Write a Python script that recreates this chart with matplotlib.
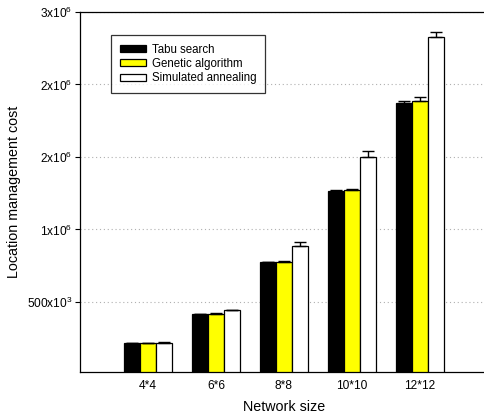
import matplotlib
matplotlib.use("Agg")
import matplotlib.pyplot as plt
import numpy as np

plt.rcParams['font.family'] = ['Liberation Sans', 'DejaVu Sans']
plt.rcParams['mathtext.fontset'] = 'custom'
plt.rcParams['mathtext.rm'] = 'Liberation Sans'

categories = ["4*4", "6*6", "8*8", "10*10", "12*12"]
series_names = ["Tabu search", "Genetic algorithm", "Simulated annealing"]
tabu = [217e3, 417e3, 774e3, 1267e3, 1874e3]
genetic = [217e3, 420e3, 775e3, 1271e3, 1884e3]
annealing = [220e3, 441e3, 885e3, 1501e3, 2326e3]
tabu_err = [2e3, 3e3, 3e3, 3e3, 12e3]
genetic_err = [2e3, 3e3, 4e3, 9e3, 27e3]
annealing_err = [2e3, 6e3, 26e3, 41e3, 39e3]
ytick_values = [500e3, 1000e3, 1500e3, 2000e3, 2500e3]
ytick_labels = [r"500x10$^\mathregular{3}$", r"1x10$^\mathregular{6}$", r"2x10$^\mathregular{6}$",
                r"2x10$^\mathregular{6}$", r"3x10$^\mathregular{6}$"]

W, H = 485, 416
fig = plt.figure(figsize=(W / 100, H / 100), dpi=100)
ax = fig.add_axes([80 / W, 1 - 371.5 / H, 408 / W, (371.5 - 12) / H])

x = np.arange(1, len(categories) + 1)
bw = 0.235
colors = ["black", "#ffff00", "white"]
data = [tabu, genetic, annealing]
errs = [tabu_err, genetic_err, annealing_err]
for i, (vals, err, c, name) in enumerate(zip(data, errs, colors, series_names)):
    pos = x + (i - 1) * bw
    ax.bar(pos, vals, width=bw, color=c, edgecolor="black", linewidth=0.9,
           label=name, zorder=2)
    ax.errorbar(pos, vals, yerr=[np.zeros(len(err)), err], fmt="none",
                ecolor="black", elinewidth=1.0, capsize=4.5, capthick=1.0, zorder=3)

ax.set_xlim(0, 6)
ax.set_ylim(20e3, 2500e3)
ax.set_xticks(x)
ax.set_xticklabels(categories, fontsize=8.6)
ax.set_yticks(ytick_values)
ax.set_yticklabels(ytick_labels, fontsize=8.6)
ax.tick_params(axis="x", length=0, pad=6)
ax.tick_params(axis="y", length=3.5, width=0.8, direction="out", pad=2)
ax.yaxis.grid(True, linestyle=(0, (1, 2.5)), color="#b0b0b0", linewidth=0.8, zorder=0)
ax.set_axisbelow(True)
for s in ["left", "bottom", "top"]:
    ax.spines[s].set_linewidth(0.9)
ax.spines["right"].set_visible(False)

ax.set_xlabel("Network size", fontsize=10.3, labelpad=6)
ax.set_ylabel("Location management cost", fontsize=10.3, labelpad=4)

leg = ax.legend(loc="upper left", bbox_to_anchor=((111 - 80) / 408, 1 - (35 - 12) / 359.5),
                fontsize=8.3, frameon=True, fancybox=False, edgecolor="black",
                handlelength=2.25, handleheight=0.55, handletextpad=0.55,
                labelspacing=0.2, borderpad=0.75, borderaxespad=0)
leg.get_frame().set_linewidth(0.9)

fig.savefig("out.png", dpi=100)
